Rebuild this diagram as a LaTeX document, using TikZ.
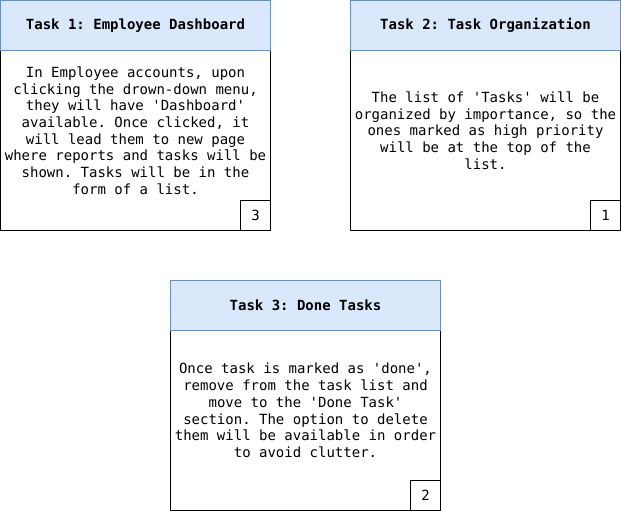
\documentclass[tikz,border=0pt]{standalone}
\usepackage{fontspec}
\setmonofont{DejaVu Sans Mono}
\usepackage{tikz}
\usetikzlibrary{positioning}
\definecolor{headfill}{HTML}{DAE8FC}
\definecolor{headline}{HTML}{6C8EBF}

\begin{document}
\begin{tikzpicture}[x=1pt, y=-1pt, every path/.style={line width=1pt},
    every node/.style={font=\ttfamily\fontsize{14}{16.7}\selectfont, outer sep=0pt},
    head/.style={draw=headline, fill=headfill, minimum width=270pt, minimum height=50pt, inner sep=0pt, font=\ttfamily\bfseries\fontsize{14}{16.7}\selectfont},
    body/.style={draw, fill=white, minimum width=270pt, minimum height=180pt, inner sep=0pt},
    num/.style={draw, minimum size=30pt, inner sep=0pt},
    desc/.style={align=center, inner sep=0pt}]

    \useasboundingbox (0,0) rectangle (621,511);

    \node[body, anchor=north west] (b1) at (0.5,50.5) {};
    \node[head, above=0pt of b1] (h1) {Task 1: Employee Dashboard};
    \node[num, anchor=south east] (n1) at (b1.south east) {3};
    \node[desc] (t1) at ([yshift=10pt]b1.center) {In Employee accounts, upon\\clicking the drown-down menu,\\they will have 'Dashboard'\\available. Once clicked, it\\will lead them to new page\\where reports and tasks will be\\shown. Tasks will be in the\\form of a list.};

    \node[body, anchor=north west] (b2) at (350.5,50.5) {};
    \node[head, above=0pt of b2] (h2) {Task 2: Task Organization};
    \node[num, anchor=south east] (n2) at (b2.south east) {1};
    \node[desc] (t2) at ([yshift=10pt]b2.center) {The list of 'Tasks' will be\\organized by importance, so the\\ones marked as high priority\\will be at the top of the\\list.};

    \node[body, anchor=north west] (b3) at (170.5,330.5) {};
    \node[head, above=0pt of b3] (h3) {Task 3: Done Tasks};
    \node[num, anchor=south east] (n3) at (b3.south east) {2};
    \node[desc] (t3) at ([yshift=10pt]b3.center) {Once task is marked as 'done',\\remove from the task list and\\move to the 'Done Task'\\section. The option to delete\\them will be available in order\\to avoid clutter.};

\end{tikzpicture}
\end{document}
